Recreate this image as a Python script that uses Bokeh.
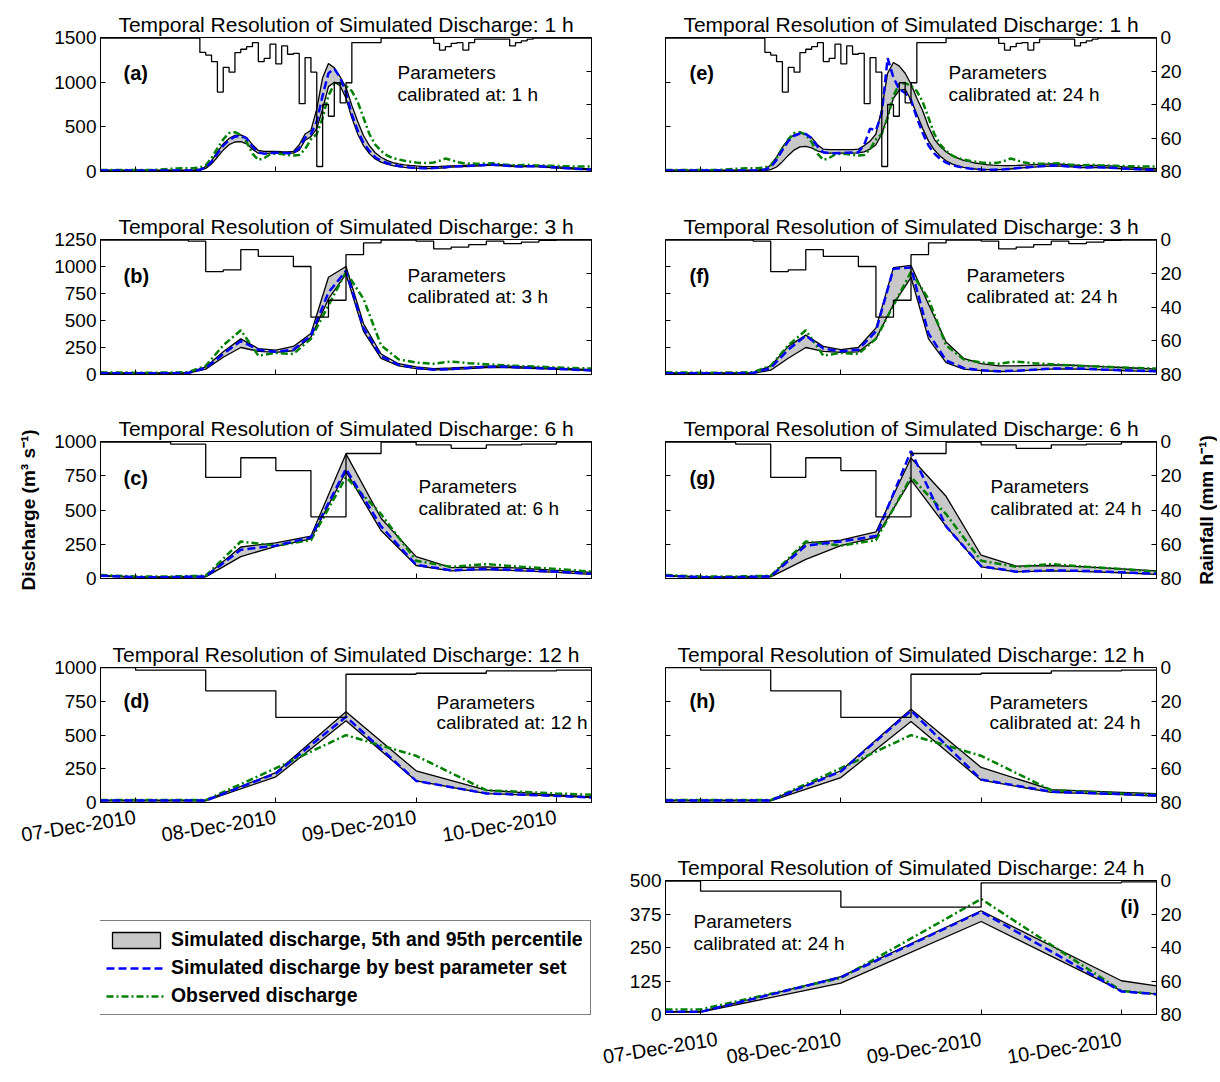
from bokeh.plotting import figure
from bokeh.models import (Range1d, LinearAxis, FixedTicker, CustomJSTickFormatter,
                          Label, Legend, LegendItem, ColumnDataSource)
from bokeh.layouts import column, row
from bokeh.embed import file_html
from bokeh.resources import INLINE

# ------------------------------------------------------------------ data
tick_hours = [0, 24, 48, 72]          # hours after 07-Dec-2010 00:00
tick_labels = ["07-Dec-2010", "08-Dec-2010", "09-Dec-2010", "10-Dec-2010"]
t_start, t_end = -6, 78
rain_ticks = [0, 20, 40, 60, 80]

# ---- 1 h resolution
t_1h = list(range(-6, 79))
obs_1h = [18, 18, 18, 18, 18, 18, 18, 18, 18, 18,
          20, 25, 30, 33, 35, 35, 38,
          45, 70, 150, 260, 360, 430, 440, 410, 330, 200,
          130, 150, 190, 200, 195, 185, 180, 185, 250, 360,
          420, 600, 850, 980, 990, 960, 900, 780, 600, 420,
          300, 230, 180, 150, 135, 120, 110, 100, 95, 95,
          100, 120, 145, 130, 105, 95, 90, 88, 88, 90,
          92, 85, 78, 72, 70, 72, 75, 70, 68, 66,
          65, 62, 60, 58, 56, 55, 55, 55]
best_a = [12, 12, 12, 12, 12, 12, 12, 12, 12, 12,
          12, 12, 12, 12, 12, 12, 13,
          20, 45, 110, 200, 290, 350, 390, 400, 370, 280,
          210, 200, 205, 210, 210, 205, 210, 260, 380, 420,
          560, 850, 1100, 1150, 1050, 880, 640, 460, 320, 230,
          160, 120, 95, 75, 62, 52, 45, 40, 37, 36,
          38, 42, 48, 55, 58, 60, 62, 66, 70, 74,
          75, 72, 68, 62, 58, 56, 58, 60, 58, 52,
          48, 44, 40, 36, 32, 28, 24, 22]
hi_a = [15, 15, 15, 15, 15, 15, 15, 15, 15, 15,
        15, 15, 15, 15, 15, 15, 16,
        25, 55, 120, 220, 310, 370, 405, 410, 380, 300,
        235, 225, 225, 225, 222, 220, 225, 300, 420, 460,
        700, 1050, 1210, 1160, 1060, 940, 740, 560, 400, 290,
        210, 160, 125, 100, 85, 75, 68, 62, 58, 55,
        55, 57, 60, 63, 66, 68, 70, 72, 75, 78,
        80, 78, 74, 70, 66, 64, 65, 66, 64, 60,
        56, 52, 48, 44, 40, 36, 33, 30]
lo_a = [10, 10, 10, 10, 10, 10, 10, 10, 10, 10,
        10, 10, 10, 10, 10, 10, 11,
        15, 35, 85, 160, 240, 300, 330, 335, 310, 250,
        205, 200, 205, 210, 210, 205, 205, 240, 350, 390,
        480, 700, 950, 1000, 960, 820, 600, 420, 290, 200,
        140, 105, 82, 66, 55, 47, 41, 37, 34, 33,
        34, 37, 42, 48, 52, 55, 57, 60, 64, 68,
        70, 67, 63, 58, 54, 52, 54, 55, 53, 48,
        44, 40, 36, 32, 28, 25, 22, 20]
best_e = [10, 10, 10, 10, 10, 10, 10, 10, 10, 10,
          10, 10, 10, 10, 11, 12, 13,
          20, 50, 130, 240, 340, 400, 425, 420, 370, 280,
          215, 205, 205, 208, 210, 212, 215, 300, 480, 460,
          650, 1270, 1050, 920, 880, 800, 600, 430, 290, 200,
          140, 100, 72, 55, 42, 33, 27, 23, 20, 20,
          22, 25, 30, 36, 42, 48, 54, 58, 62, 65,
          66, 62, 57, 52, 48, 46, 47, 48, 46, 42,
          38, 34, 30, 27, 24, 21, 19, 17]
hi_e = [15, 15, 15, 15, 15, 15, 15, 15, 15, 15,
        15, 15, 15, 15, 15, 16, 18,
        30, 70, 160, 270, 360, 410, 430, 425, 380, 300,
        250, 245, 244, 244, 244, 245, 250, 290, 340, 420,
        700, 1100, 1220, 1180, 1100, 980, 820, 680, 500, 360,
        280, 220, 180, 150, 125, 110, 95, 85, 78, 72,
        68, 66, 66, 68, 72, 75, 78, 80, 82, 84,
        84, 80, 76, 72, 68, 66, 67, 68, 66, 62,
        58, 54, 50, 46, 42, 38, 35, 32]
lo_e = [8, 8, 8, 8, 8, 8, 8, 8, 8, 8,
        8, 8, 8, 8, 8, 8, 9,
        10, 20, 50, 110, 180, 240, 275, 282, 265, 230,
        210, 205, 205, 205, 205, 206, 208, 220, 250, 300,
        420, 620, 820, 910, 920, 800, 640, 480, 340, 240,
        170, 120, 85, 62, 46, 35, 28, 24, 21, 20,
        21, 24, 28, 34, 40, 45, 50, 54, 58, 61,
        62, 58, 54, 49, 45, 43, 44, 45, 43, 39,
        35, 31, 28, 25, 22, 19, 17, 15]
rain_1h = [0.3, 0.3, 0.3, 0.3, 0.3, 0.3, 0.3, 0.3, 0.3, 0.3,
           0.3, 0.3, 0.3, 0.3, 0.3, 0.3, 0.3,
           8.9, 10.5, 14.4, 32.6, 17.8, 20.7, 9, 7, 5.5, 3,
           14.4, 12.5, 4, 15.8, 5, 10, 9.5, 39.5, 12, 20.7,
           77, 40, 47, 27, 39, 27, 3, 3, 3, 3, 3,
           0.4, 0.4, 0.4, 0.4, 0.4, 0.4, 0.4, 0.4, 0.4,
           3.5, 7.5, 5.5, 3.5, 3, 7.5, 3, 1, 1, 1, 1, 1, 1, 5, 3, 2, 1,
           0.3, 0.3, 0.3, 0.3, 0.3, 0.3, 0.3, 0.3, 0.3, 0.3]

# ---- 3 h resolution
t_3h = list(range(-6, 79, 3))
obs_3h = [20, 18, 17, 17, 18, 22, 80, 270, 410, 175, 200, 190, 330, 640, 950, 700,
          270, 140, 110, 100, 120, 105, 95, 85, 78, 72, 65, 60, 55]
best_b = [12, 12, 12, 12, 12, 14, 60, 190, 310, 230, 210, 230, 360, 760, 960, 430,
          170, 90, 60, 45, 50, 60, 70, 72, 65, 58, 52, 45, 38]
lo_b = [10, 10, 10, 10, 10, 12, 50, 160, 250, 215, 205, 220, 345, 700, 930, 400,
        150, 80, 55, 42, 45, 55, 65, 66, 60, 54, 48, 42, 35]
hi_b = [15, 15, 15, 15, 15, 18, 70, 210, 330, 240, 225, 260, 380, 900, 1000, 470,
        190, 100, 70, 55, 60, 68, 78, 80, 72, 65, 58, 52, 45]
best_f = [12, 12, 12, 12, 12, 14, 60, 230, 360, 240, 215, 230, 400, 980, 990, 380,
          130, 60, 40, 30, 35, 45, 55, 58, 52, 45, 40, 35, 30]
lo_f = [8, 8, 8, 8, 8, 10, 40, 150, 250, 215, 205, 210, 330, 650, 900, 330,
        110, 50, 35, 28, 32, 42, 50, 52, 47, 42, 37, 32, 28]
hi_f = [15, 15, 15, 15, 15, 18, 80, 260, 365, 260, 230, 250, 430, 990, 1010, 650,
        300, 150, 100, 80, 80, 85, 90, 88, 80, 72, 65, 58, 50]
rain_3h = [0.3, 0.3, 0.3, 0.3, 0.3, 1, 19, 18, 6, 10, 10, 16, 46, 36, 9, 2,
           0.4, 0.4, 1, 5.5, 4.5, 3, 1, 2.5, 1.5, 0.5, 0.3, 0.3]

# ---- 6 h resolution
t_6h = list(range(-6, 79, 6))
obs_6h = [25, 15, 15, 20, 270, 240, 280, 740, 470, 130, 85, 105, 85, 70, 50]
best_c = [20, 10, 10, 15, 210, 240, 300, 800, 380, 100, 60, 70, 60, 50, 35]
lo_c = [18, 8, 8, 12, 160, 235, 290, 780, 350, 95, 55, 65, 55, 45, 30]
hi_c = [22, 12, 12, 18, 230, 260, 310, 910, 440, 160, 80, 85, 75, 60, 45]
best_g = [20, 10, 10, 15, 240, 270, 310, 930, 380, 90, 50, 60, 55, 45, 35]
lo_g = [18, 8, 8, 12, 140, 240, 300, 720, 380, 85, 48, 55, 50, 42, 30]
hi_g = [22, 12, 12, 18, 260, 280, 340, 880, 600, 170, 90, 95, 85, 70, 55]
rain_6h = [0.3, 0.3, 1.5, 21, 9.5, 17, 44, 7, 0.4, 2, 4, 2, 1.5, 0.3]

# ---- 12 h resolution
t_12h = [-6, 0, 12, 24, 36, 48, 60, 72, 78]
obs_12h = [18, 18, 18, 254, 499, 346, 91, 67, 57]
best_d = [15, 15, 15, 215, 635, 160, 67, 49, 37]
lo_d = [12, 12, 12, 190, 605, 160, 66, 49, 37]
hi_d = [18, 18, 18, 222, 672, 235, 91, 57, 42]
best_h = [15, 15, 15, 230, 680, 170, 80, 62, 52]
lo_h = [12, 12, 12, 185, 600, 165, 75, 58, 48]
hi_h = [18, 18, 18, 235, 690, 260, 95, 75, 65]
rain_12h = [0, 1.6, 13.8, 29.6, 4, 3.4, 2, 1.6]

# ---- 24 h resolution
t_24h = [-6, 0, 24, 48, 72, 78]
obs_24h = [19, 19, 136, 431, 88, 76]
best_i = [10, 10, 139, 384, 86, 76]
lo_i = [9, 9, 117, 347, 88, 76]
hi_i = [11, 11, 141, 387, 126, 107]
rain_24h = [0.4, 6.4, 15.9, 1.4, 0.8]

title_fmt = "Temporal Resolution of Simulated Discharge: {}"
legend_labels = ["Simulated discharge, 5th and 95th percentile",
                 "Simulated discharge by best parameter set",
                 "Observed discharge"]
ylabel_left = "Discharge (m\u00b3 s\u207b\u00b9)"
ylabel_right = "Rainfall (mm h\u207b\u00b9)"

# ------------------------------------------------------------------ style
FONT = "Liberation Sans"
GRAY = "#c8c8c8"
BLUE = "#0000ff"
GREEN = "#008000"
FRAME_W = 491


def empty_fmt():
    return CustomJSTickFormatter(code="return ''")


def style_axis(ax):
    ax.major_tick_in = 5
    ax.major_tick_out = 0
    ax.minor_tick_line_color = None
    ax.axis_line_color = "black"
    ax.major_tick_line_color = "black"
    ax.major_label_text_font = FONT
    ax.major_label_text_font_size = "19px"
    ax.major_label_text_color = "black"
    ax.major_label_standoff = 4
    ax.axis_label_text_font = FONT
    ax.axis_label_text_font_size = "19px"
    ax.axis_label_text_font_style = "bold"
    ax.axis_label_text_color = "black"


def make_panel(res, t, lo, hi, best, obs, r_vals, ymax, yticks, tag, tag_xy,
               calib, p_xy, col, left_lab, right_lab, date_standoff, frame_h,
               b_top, b_bottom, ylabel=None):
    bl, br = (100, 10) if col == 0 else (64, 30)
    p = figure(frame_width=FRAME_W, frame_height=frame_h,
               x_range=Range1d(t_start, t_end), y_range=Range1d(0, ymax),
               min_border_left=bl, min_border_right=br,
               min_border_top=b_top, min_border_bottom=b_bottom,
               x_axis_location=None, y_axis_location=None,
               output_backend="svg", toolbar_location=None,
               title=title_fmt.format(res))
    p.extra_y_ranges = {"rain": Range1d(rain_ticks[-1], rain_ticks[0])}
    p.outline_line_color = "black"
    p.outline_line_width = 1
    p.title.align = "center"
    p.title.text_font = FONT
    p.title.text_font_size = "21px"
    p.title.text_font_style = "normal"
    p.title.text_color = "black"
    p.title.standoff = 3

    xa = LinearAxis(ticker=FixedTicker(ticks=tick_hours))
    style_axis(xa)
    if date_standoff is not None:
        xa.major_label_overrides = {h: s for h, s in zip(tick_hours, tick_labels)}
        xa.major_label_orientation = 0.16
        xa.major_label_text_font_size = "20px"
        xa.major_label_standoff = date_standoff
    else:
        xa.formatter = empty_fmt()
    p.add_layout(xa, "below")

    ya = LinearAxis(ticker=FixedTicker(ticks=yticks))
    style_axis(ya)
    if not left_lab:
        ya.formatter = empty_fmt()
    if ylabel:
        ya.axis_label = ylabel
        ya.axis_label_standoff = 12
    p.add_layout(ya, "left")

    ra = LinearAxis(y_range_name="rain", ticker=FixedTicker(ticks=rain_ticks))
    style_axis(ra)
    if not right_lab:
        ra.formatter = empty_fmt()
    p.add_layout(ra, "right")

    for g in p.grid:
        g.visible = False

    src = ColumnDataSource(dict(t=t, lo=lo, hi=hi, best=best, obs=obs))
    p.varea(x="t", y1="lo", y2="hi", source=src, fill_color=GRAY)
    p.line("t", "lo", source=src, line_color="black", line_width=1.3)
    p.line("t", "hi", source=src, line_color="black", line_width=1.3)
    p.line("t", "obs", source=src, line_color=GREEN, line_width=2.5,
           line_dash="7 3 2 3")
    p.line("t", "best", source=src, line_color=BLUE, line_width=2.5,
           line_dash="8 4")
    p.step(x=list(t), y=list(r_vals) + [r_vals[-1]], mode="after",
           y_range_name="rain", line_color="black", line_width=1.3)

    p.add_layout(Label(x=tag_xy[0], y=tag_xy[1], x_units="screen", y_units="screen",
                       text=tag, text_font=FONT, text_font_size="20px",
                       text_font_style="bold", text_baseline="middle",
                       text_color="black"))
    p.add_layout(Label(x=p_xy[0], y=p_xy[1], x_units="screen", y_units="screen",
                       text="Parameters", text_font=FONT, text_font_size="19px",
                       text_baseline="middle", text_color="black"))
    p.add_layout(Label(x=p_xy[0], y=p_xy[2], x_units="screen", y_units="screen",
                       text="calibrated at: " + calib, text_font=FONT,
                       text_font_size="19px", text_baseline="middle",
                       text_color="black"))
    return p


pa = make_panel("1 h", t_1h, lo_a, hi_a, best_a, obs_1h, rain_1h, 1500, [0, 500, 1000, 1500],
                "(a)", (23, 99), "1 h", (297, 99, 77), 0, True, False, None, 134, 37, 39)
pe = make_panel("1 h", t_1h, lo_e, hi_e, best_e, obs_1h, rain_1h, 1500, [0, 500, 1000, 1500],
                "(e)", (24, 99), "24 h", (283, 99, 77), 1, False, True, None, 134, 37, 39)
pb = make_panel("3 h", t_3h, lo_b, hi_b, best_b, obs_3h, rain_3h, 1250, [0, 250, 500, 750, 1000, 1250],
                "(b)", (23, 99), "3 h", (307, 99, 78), 0, True, False, None, 135, 29, 38)
pf = make_panel("3 h", t_3h, lo_f, hi_f, best_f, obs_3h, rain_3h, 1250, [0, 250, 500, 750, 1000, 1250],
                "(f)", (24, 99), "24 h", (301, 99, 78), 1, False, True, None, 135, 29, 38)
pc = make_panel("6 h", t_6h, lo_c, hi_c, best_c, obs_6h, rain_6h, 1000, [0, 250, 500, 750, 1000],
                "(c)", (23, 101), "6 h", (318, 92, 70), 0, True, False, None, 137, 29, 60,
                ylabel=ylabel_left)
pg = make_panel("6 h", t_6h, lo_g, hi_g, best_g, obs_6h, rain_6h, 1000, [0, 250, 500, 750, 1000],
                "(g)", (24, 101), "24 h", (325, 92, 70), 1, False, True, None, 137, 29, 60)
pd = make_panel("12 h", t_12h, lo_d, hi_d, best_d, obs_12h, rain_12h, 1000, [0, 250, 500, 750, 1000],
                "(d)", (23, 102), "12 h", (336, 100, 80), 0, True, False, 14, 135, 29, 70)
ph = make_panel("12 h", t_12h, lo_h, hi_h, best_h, obs_12h, rain_12h, 1000, [0, 250, 500, 750, 1000],
                "(h)", (24, 102), "24 h", (324, 100, 80), 1, False, True, None, 135, 29, 49)
pi = make_panel("24 h", t_24h, lo_i, hi_i, best_i, obs_24h, rain_24h, 500, [0, 125, 250, 375, 500],
                "(i)", (455, 108), "24 h", (28, 93, 71), 1, True, True, 24, 134, 29, 58)

# ------------------------------------------------------------------ rainfall axis title (beside g)
rlab = figure(frame_width=1, frame_height=137, x_range=Range1d(0, 1),
              y_range=Range1d(rain_ticks[-1], rain_ticks[0]),
              min_border_left=30, min_border_right=0, min_border_top=29, min_border_bottom=60,
              x_axis_location=None, y_axis_location=None,
              output_backend="svg", toolbar_location=None)
rlab.outline_line_color = None
ry = LinearAxis(ticker=FixedTicker(ticks=[]), formatter=empty_fmt())
style_axis(ry)
ry.axis_line_color = None
ry.major_tick_line_color = None
ry.axis_label = ylabel_right
ry.axis_label_standoff = 0
rlab.add_layout(ry, "left")
for g in rlab.grid:
    g.visible = False

# ------------------------------------------------------------------ legend panel
leg = figure(frame_width=FRAME_W, frame_height=150, x_range=Range1d(0, 1), y_range=Range1d(0, 1),
             x_axis_location=None, y_axis_location=None,
             min_border_left=100, min_border_right=10, min_border_top=0, min_border_bottom=0,
             output_backend="svg", toolbar_location=None)
leg.outline_line_color = None
for g in leg.grid:
    g.visible = False
nan = float("nan")
dummy = ColumnDataSource(dict(x=[nan], y=[nan], l=[nan], r=[nan], b=[nan], t=[nan]))
r1 = leg.quad(left="l", right="r", bottom="b", top="t", source=dummy,
              fill_color=GRAY, line_color="black", line_width=1.3)
r2 = leg.line("x", "y", source=dummy, line_color=BLUE, line_width=2.5, line_dash="8 4")
r3 = leg.line("x", "y", source=dummy, line_color=GREEN, line_width=2.5, line_dash="7 3 2 3")
legend = Legend(items=[LegendItem(label=legend_labels[0], renderers=[r1]),
                       LegendItem(label=legend_labels[1], renderers=[r2]),
                       LegendItem(label=legend_labels[2], renderers=[r3])],
                location=(-2, 7))
legend.label_text_font = FONT
legend.label_text_font_size = "19.4px"
legend.label_text_font_style = "bold"
legend.label_text_color = "black"
legend.glyph_width = 60
legend.glyph_height = 20
legend.label_height = 20
legend.spacing = 5
legend.padding = 7
legend.margin = 0
legend.label_standoff = 5
legend.border_line_color = "black"
legend.border_line_width = 1
legend.background_fill_color = "white"
legend.background_fill_alpha = 1
leg.add_layout(legend)

layout = row(column(pa, pb, pc, pd, leg),
             column(pe, pf, row(pg, rlab), ph, pi))

open("out.html", "w").write(file_html(layout, INLINE))
